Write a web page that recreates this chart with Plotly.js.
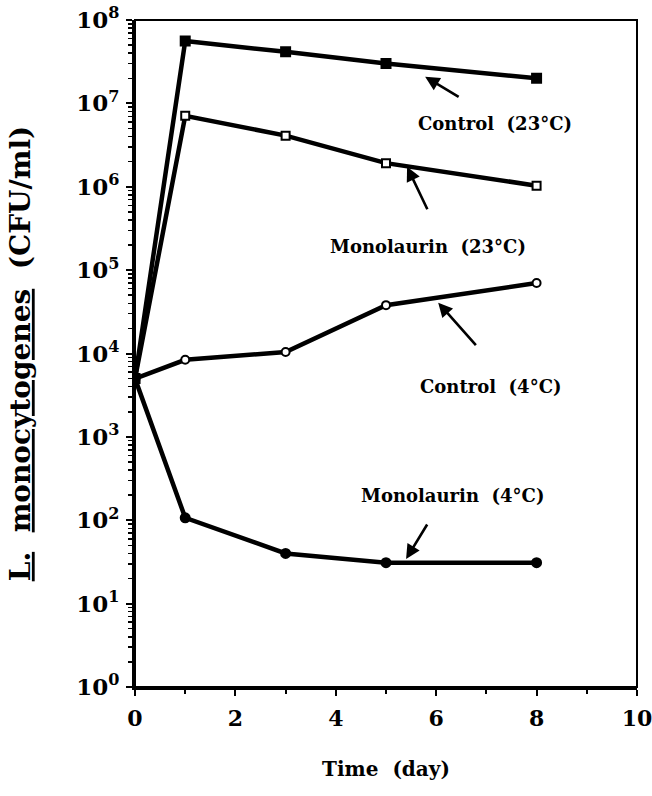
<!DOCTYPE html>
<html>
<head>
<meta charset="utf-8">
<script src="https://cdn.plot.ly/plotly-3.0.1.min.js"></script>
<style>html,body{margin:0;padding:0;background:#fff;}#chart{width:652px;height:796px;}</style>
</head>
<body>
<div id="chart"></div>
<script>
// Data
const days = [0, 1, 3, 5, 8];
const control23 = [5000, 5.6e7, 4.15e7, 3.0e7, 2.0e7];
const monolaurin23 = [5000, 7.1e6, 4.1e6, 1.92e6, 1.03e6];
const control4 = [5000, 8.4e3, 1.04e4, 3.8e4, 7.0e4];
const monolaurin4 = [5000, 107, 40, 31, 31];

const seriesNames = ["Control (23°C)", "Monolaurin (23°C)", "Control (4°C)", "Monolaurin (4°C)"];
const yTickVals = [1, 10, 100, 1e3, 1e4, 1e5, 1e6, 1e7, 1e8];
const yTickText = ["10<sup>0</sup>","10<sup>1</sup>","10<sup>2</sup>","10<sup>3</sup>","10<sup>4</sup>","10<sup>5</sup>","10<sup>6</sup>","10<sup>7</sup>","10<sup>8</sup>"];
const xTickVals = [0, 2, 4, 6, 8, 10];
const xTickText = ["0", "2", "4", "6", "8", "10"];

const FONT = "DejaVu Serif";
const lineStyle = {color: "black", width: 4.5};

function trace(y, name, symbol, fill, size) {
  return {
    x: days, y: y, name: name, type: "scatter", mode: "lines+markers",
    line: lineStyle,
    marker: {symbol: symbol, size: size, color: fill, line: {color: "black", width: 2}},
    showlegend: false
  };
}

const data = [
  trace(control23, seriesNames[0], "square", "black", 9),
  trace(monolaurin23, seriesNames[1], "square", "white", 8),
  trace(control4, seriesNames[2], "circle", "white", 8),
  trace(monolaurin4, seriesNames[3], "circle", "black", 9)
];

// Label annotations (text) and arrows
const labelX = [7.17, 5.84, 7.09, 6.33];
const labelY = [6.76, 5.28, 3.60, 2.30]; // log10 units
const arrowX = [5.78, 5.42, 6.04, 5.40];
const arrowY = [7.32, 6.24, 4.61, 1.535];
const arrowAX = [35, 21, 39, 22];
const arrowAY = [21, 44, 44, -36];

const annotations = [];
for (let i = 0; i < 4; i++) {
  annotations.push({
    x: labelX[i], y: labelY[i], xref: "x", yref: "y",
    text: "<b>" + seriesNames[i].replace(" ", "&nbsp;&nbsp;") + "</b>",
    showarrow: false,
    font: {family: FONT, size: 18, color: "black"},
    xanchor: "center", yanchor: "middle"
  });
  annotations.push({
    x: arrowX[i], y: arrowY[i], xref: "x", yref: "y",
    ax: arrowAX[i], ay: arrowAY[i], text: "",
    showarrow: true, arrowhead: 2, arrowsize: 1.1, arrowwidth: 2.6, arrowcolor: "black",
    standoff: 0
  });
}

const layout = {
  width: 652, height: 796,
  paper_bgcolor: "white", plot_bgcolor: "white",
  margin: {l: 135, r: 15, t: 20, b: 109},
  font: {family: FONT, color: "black"},
  xaxis: {
    range: [-0.0005, 10.0005],
    tickmode: "array", tickvals: xTickVals, ticktext: xTickText,
    ticks: "outside", ticklen: 6, tickwidth: 2, tickcolor: "black",
    showgrid: false, zeroline: false,
    showline: true, linewidth: 3, linecolor: "black",
    tickfont: {family: FONT, size: 22, color: "black", weight: "bold"},
    ticklabelstandoff: 4,
    ticklabeloverflow: "allow",
    minor: {dtick: 1, ticks: "outside", ticklen: 4, tickwidth: 2, tickcolor: "black", showgrid: false},
    title: {text: "<b>Time&nbsp;&nbsp;(day)</b>", font: {family: FONT, size: 20, color: "black"}, standoff: 32},
    automargin: false
  },
  yaxis: {
    type: "log", range: [0, 8],
    tickmode: "array", tickvals: yTickVals, ticktext: yTickText,
    ticks: "outside", ticklen: 6, tickwidth: 2, tickcolor: "black",
    showgrid: false, zeroline: false,
    showline: true, linewidth: 3, linecolor: "black",
    tickfont: {family: FONT, size: 23, color: "black", weight: "bold"},
    ticklabelstandoff: 2,
    minor: {dtick: "D1", ticks: "outside", ticklen: 4, tickwidth: 1.5, tickcolor: "black", showgrid: false},
    title: {text: "<b><span style='text-decoration:underline'>L.</span>&nbsp;&nbsp;<span style='text-decoration:underline'>monocytogenes</span>&nbsp;&nbsp;(CFU/ml)</b>", font: {family: FONT, size: 28, color: "black"}, standoff: 38},
    automargin: false
  },
  shapes: [{
    type: "rect", xref: "paper", yref: "paper", x0: 0, x1: 1, y0: 0, y1: 1,
    line: {color: "black", width: 2}, layer: "above"
  }],
  annotations: annotations
};

Plotly.newPlot("chart", data, layout, {displayModeBar: false, staticPlot: true});
</script>
</body>
</html>
